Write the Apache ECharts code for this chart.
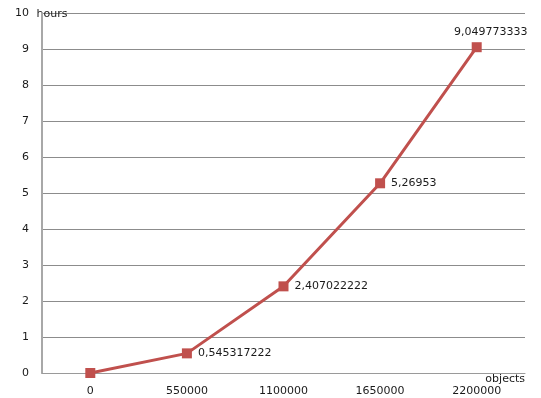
<!DOCTYPE html>
<html lang="en">
<head>
    <meta charset="UTF-8">
    <title>hours vs objects</title>
    <script src="https://cdn.jsdelivr.net/npm/echarts@6.0.0/dist/echarts.min.js"></script>
    <style type="text/css">
        html, body { margin: 0; padding: 0; background: #fff; }
    </style>
</head>
<body>
<div id="myChart" style="width: 541px;height:398px;"></div>

<script>
    // x categories (objects) and measured time (hours)
    var objects = ['0', '550000', '1100000', '1650000', '2200000'];
    var hours = [0, 0.545317222, 2.407022222, 5.26953, 9.049773333];

    var font = 'DejaVu Sans';
    var lineColor = '#c0504d';

    var myChart = echarts.init(document.getElementById('myChart'));

    // comma as decimal separator, like the original
    function commaNum(v) {
        return String(v).replace('.', ',');
    }

    var seriesData = hours.map(function (v, i) {
        var item = { value: v };
        if (i === 0) {
            item.label = { show: false };
        } else if (i === hours.length - 1) {
            item.label = { position: 'top', distance: 5, offset: [14, 0] };
        }
        return item;
    });

    var option = {
        animation: false,
        grid: {
            left: 42,
            right: 16,
            top: 13,
            bottom: 25
        },
        xAxis: {
            type: 'category',
            data: objects,
            boundaryGap: true,
            name: 'objects',
            nameLocation: 'end',
            nameGap: 0,
            nameTextStyle: {
                fontFamily: font,
                fontSize: 11,
                color: '#1a1a1a',
                align: 'right',
                verticalAlign: 'top',
                padding: [1, 0, 0, 0]
            },
            axisLine: { lineStyle: { color: '#9a9a9a', width: 1 } },
            axisTick: { show: false },
            axisLabel: {
                fontFamily: font,
                fontSize: 11,
                color: '#1a1a1a',
                margin: 13
            }
        },
        yAxis: {
            type: 'value',
            min: 0,
            max: 10,
            interval: 1,
            name: 'hours',
            nameLocation: 'end',
            nameGap: -1,
            nameTextStyle: {
                fontFamily: font,
                fontSize: 11,
                color: '#1a1a1a',
                align: 'center',
                verticalAlign: 'middle',
                padding: [0, 0, 0, 20]
            },
            axisLine: { show: true, lineStyle: { color: '#a8a8a8', width: 2 } },
            axisTick: { show: false },
            axisLabel: {
                fontFamily: font,
                fontSize: 11,
                color: '#1a1a1a',
                margin: 13
            },
            splitLine: { lineStyle: { color: '#8c8c8c', width: 1 } }
        },
        series: [
            {
                type: 'line',
                data: seriesData,
                symbol: 'rect',
                symbolSize: 10,
                lineStyle: { color: lineColor, width: 3 },
                itemStyle: { color: lineColor },
                label: {
                    show: true,
                    position: 'right',
                    distance: 6,
                    fontFamily: font,
                    fontSize: 11,
                    color: '#1a1a1a',
                    formatter: function (p) {
                        return commaNum(p.value);
                    }
                }
            }
        ]
    };

    myChart.setOption(option);
</script>
</body>
</html>
